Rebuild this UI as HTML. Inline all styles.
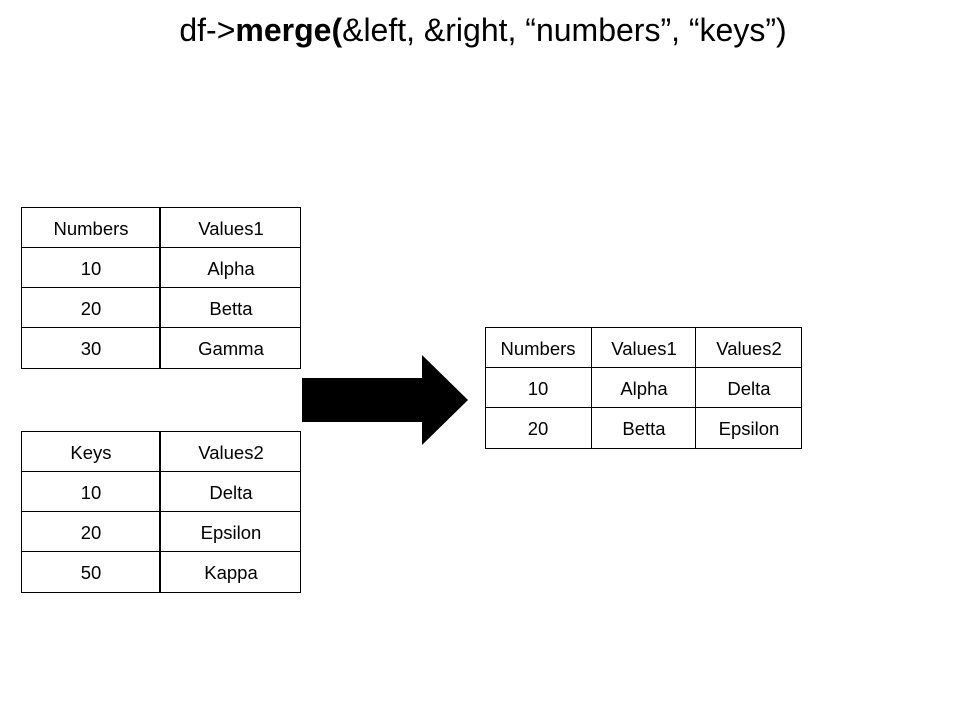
<!DOCTYPE html>
<html><head><meta charset="utf-8"><style>
html,body{margin:0;padding:0;background:#fff;}
svg{display:block;}
text{font-family:"Liberation Sans",Arial,sans-serif;font-size:18.5px;fill:#000;}
</style></head><body>
<svg width="960" height="720" xmlns="http://www.w3.org/2000/svg">
<text x="483" y="41" text-anchor="middle" style="font-size:32px">df-&gt;<tspan font-weight="bold">merge(</tspan>&amp;left, &amp;right, “numbers”, “keys”)</text>

<g stroke="#000" fill="none">
<rect x="21.5" y="207.5" width="279" height="161" stroke-width="1"/>
<line x1="21" y1="247.5" x2="301" y2="247.5"/>
<line x1="21" y1="287.5" x2="301" y2="287.5"/>
<line x1="21" y1="327.5" x2="301" y2="327.5"/>
<line x1="160" y1="207" x2="160" y2="369" stroke-width="2"/>
<rect x="21.5" y="431.5" width="279" height="161"/>
<line x1="21" y1="471.5" x2="301" y2="471.5"/>
<line x1="21" y1="511.5" x2="301" y2="511.5"/>
<line x1="21" y1="551.5" x2="301" y2="551.5"/>
<line x1="160" y1="431" x2="160" y2="593" stroke-width="2"/>
<rect x="485.5" y="327.5" width="316" height="121"/>
<line x1="485" y1="367.5" x2="802" y2="367.5"/>
<line x1="485" y1="407.5" x2="802" y2="407.5"/>
<line x1="591.5" y1="327" x2="591.5" y2="449"/>
<line x1="695.5" y1="327" x2="695.5" y2="449"/>
</g>

<polygon points="302,378 422,378 422,355 468,400 422,445 422,422 302,422" fill="#000"/>

<g text-anchor="middle">
<text x="91" y="235">Numbers</text><text x="231" y="235">Values1</text>
<text x="91" y="275">10</text><text x="231" y="275">Alpha</text>
<text x="91" y="315">20</text><text x="231" y="315">Betta</text>
<text x="91" y="355">30</text><text x="231" y="355">Gamma</text>

<text x="91" y="459">Keys</text><text x="231" y="459">Values2</text>
<text x="91" y="499">10</text><text x="231" y="499">Delta</text>
<text x="91" y="539">20</text><text x="231" y="539">Epsilon</text>
<text x="91" y="579">50</text><text x="231" y="579">Kappa</text>

<text x="538" y="355">Numbers</text><text x="644" y="355">Values1</text><text x="749" y="355">Values2</text>
<text x="538" y="395">10</text><text x="644" y="395">Alpha</text><text x="749" y="395">Delta</text>
<text x="538" y="435">20</text><text x="644" y="435">Betta</text><text x="749" y="435">Epsilon</text>
</g>
</svg>
</body></html>
